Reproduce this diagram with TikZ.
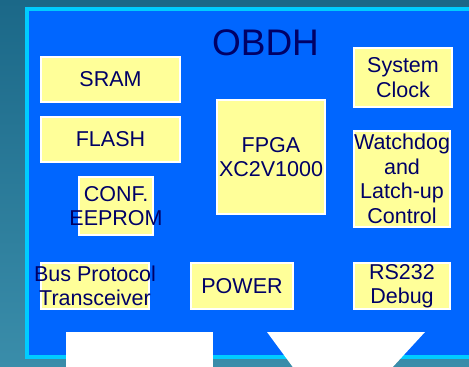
\documentclass[tikz,border=0pt]{standalone}
\usepackage{fontspec}
\setmainfont{Liberation Sans}
\definecolor{bgtop}{HTML}{1B6888}
\definecolor{bgbot}{HTML}{3A8DAA}
\definecolor{panel}{HTML}{0066FF}
\definecolor{panelrim}{HTML}{00CCFF}
\definecolor{chip}{HTML}{FFFF99}
\definecolor{ink}{HTML}{000066}
\tikzset{
  x=1pt, y=-1pt,
  unit/.style={draw=white, line width=1.2pt, fill=chip, inner sep=0pt},
  unitlabel/.style={text=ink, align=center, inner sep=0pt,
    font=\fontsize{21.5}{24.5}\selectfont},
  blank/.style={fill=white, draw=none},
}
\newcommand{\unitbox}[5]{% name, x1, y1, x2, y2
  \node[unit, minimum width={#4-#2}, minimum height={#5-#3}]
    (#1) at ({(#2+#4)/2},{(#3+#5)/2}) {};
}
\begin{document}
\begin{tikzpicture}
  % backdrop
  \shade[top color=bgtop, bottom color=bgbot] (0,0) rectangle (469,367);
  \useasboundingbox (0,0) rectangle (469,367);

  % OBDH panel
  \draw[panelrim, line width=4pt, fill=panel] (27,9) rectangle (480,357);
  \node[text=ink, font=\fontsize{37}{40}\selectfont, inner sep=0pt]
    (title) at (265.5,43) {OBDH};

  % units
  \unitbox{sram}{41}{57}{180}{102}
  \unitbox{flash}{41}{117}{180}{162}
  \unitbox{eeprom}{79}{177}{153}{235}
  \unitbox{fpga}{217}{100}{325}{214}
  \unitbox{clock}{354}{48}{452}{107}
  \unitbox{wdog}{354}{131}{450}{227}
  \unitbox{bus}{41}{263}{149}{309}
  \unitbox{power}{191}{263}{293}{309}
  \unitbox{rs232}{354}{263}{450}{309}

  \node[unitlabel] (sramtxt) at (sram) {SRAM};
  \node[unitlabel] (flashtxt) at (flash) {FLASH};
  \node[unitlabel] (eepromtxt) at (eeprom) {CONF.\\EEPROM};
  \node[unitlabel] (fpgatxt) at (fpga) {FPGA\\XC2V1000};
  \node[unitlabel] (clocktxt) at (clock) {System\\Clock};
  \node[unitlabel] (wdogtxt) at (wdog) {Watchdog\\and\\Latch-up\\Control};
  \node[unitlabel] (bustxt) at (95,286) {Bus Protocol\\Transceiver};
  \node[unitlabel] (powertxt) at (power) {POWER};
  \node[unitlabel] (rs232txt) at (rs232) {RS232\\Debug};

  % white shapes along the lower edge
  \fill[blank] (66,332) rectangle (213,370);
  \fill[blank] (267,332) -- (425,332) -- (390,370) -- (295,370) -- cycle;
\end{tikzpicture}
\end{document}
